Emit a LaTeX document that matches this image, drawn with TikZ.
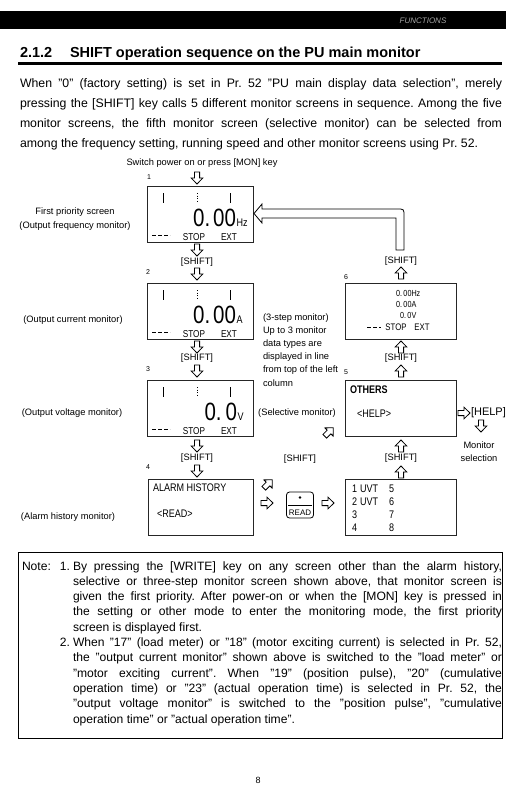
\documentclass[tikz,border=0pt]{standalone}
\usepackage{fontspec}
\setmainfont{Liberation Sans}
\newfontfamily\lcd[FakeStretch=0.82]{Liberation Sans}
\newcommand\fs[1]{\fontsize{#1}{#1}\selectfont\frenchspacing}
\tikzset{
  harrow/.pic={\draw[line width=0.8pt, line join=miter, fill=white]
     (-2.6,-6) -- (2.6,-6) -- (2.6,0) -- (5.8,0) -- (0,6) -- (-5.8,0) -- (-2.6,0) -- cycle;},
}
\newcommand\lcdticks[2]{%
  \draw[line width=0.6pt] (#1+16,#2+7) -- (#1+16,#2+17);
  \draw[line width=0.6pt, dotted] (#1+50,#2+7) -- (#1+50,#2+17);
  \draw[line width=0.6pt] (#1+83,#2+7) -- (#1+83,#2+17);}
\begin{document}
\begin{tikzpicture}[x=1pt,y=-1pt,
  every node/.style={inner sep=0pt, outer sep=0pt},
  lbl/.style={font=\fs{9.3}},
  body/.style={font=\fs{12.3}, anchor=base west},
  nbody/.style={font=\fs{12.1}, anchor=base west},
  lcdbox/.style={draw=black!85, line width=0.9pt, anchor=north west},
  lcdtxt/.style={font=\lcd\fs{10}, anchor=base},
  smalllcd/.style={font=\lcd\fs{8.8}, anchor=base west},
  scr/.style={font=\lcd\fs{11}, anchor=base west},
  big/.style={font=\lcd\fs{25}, anchor=base east},
  unit/.style={font=\lcd\fs{11}, anchor=base west},
  num/.style={font=\fs{7}},
  dash3/.style={line width=0.6pt, dash pattern=on 4pt off 2pt},
]
\useasboundingbox (0,0) rectangle (518,792);
% header
\fill (0,11.5) rectangle (506,29);
\node[font=\itshape\fs{8}, text=black!35] (hdr) at (423,20.5) {FUNCTIONS};
% title
\node[font=\bfseries\fs{14.5}, anchor=base west] (secnum) at (20,57) {2.1.2};
\node[font=\bfseries\fs{14.5}, anchor=base west] (title) at (70,57) {SHIFT operation sequence on the PU main monitor};
\draw[line width=2.4pt] (18,63.5) -- (502,63.5);
% intro
\node[body] (p1) at (20,87) {\makebox[482pt][s]{When "0" (factory setting) is set in Pr. 52 "PU main display data selection", merely}};
\node[body] (p2) at (20,107) {\makebox[482pt][s]{pressing the [SHIFT] key calls 5 different monitor screens in sequence. Among the five}};
\node[body] (p3) at (20,127) {\makebox[482pt][s]{monitor screens, the fifth monitor screen (selective monitor) can be selected from}};
\node[body] (p4) at (20,147) {among the frequency setting, running speed and other monitor screens using Pr. 52.};

% ---------- diagram ----------
\node[lbl] (sw) at (202,163) {Switch power on or press [MON] key};
\node[num] (n1) at (149,177) {1};
\node[num] (n2) at (148,272) {2};
\node[num] (n3) at (148,369) {3};
\node[num] (n4) at (148,467) {4};
\node[num] (n6) at (346,277) {6};
\node[num] (n5) at (346,372) {5};

% screens
\node[lcdbox, minimum width=106pt, minimum height=56pt] (s1) at (147,186) {};
\node[lcdbox, minimum width=106pt, minimum height=56pt] (s2) at (147,283) {};
\node[lcdbox, minimum width=106pt, minimum height=56pt] (s3) at (147,380) {};
\node[lcdbox, minimum width=105pt, minimum height=56pt] (s4) at (148,479) {};
\node[lcdbox, minimum width=111pt, minimum height=56pt] (s6) at (345,283) {};
\node[lcdbox, minimum width=111pt, minimum height=56pt] (s5) at (345,380) {};
\node[lcdbox, minimum width=111pt, minimum height=56pt] (s7) at (345,479) {};

% screen 1
\lcdticks{147}{186}
\node[big] (v1) at (236,226) {0.\hspace{3pt}00};
\node[unit] (u1) at (236.5,226) {Hz};
\draw[dash3] (152,235) -- (170,235);
\node[lcdtxt] (st1) at (194,240) {STOP};
\node[lcdtxt] (ex1) at (229,240) {EXT};
% screen 2
\lcdticks{147}{283}
\node[big] (v2) at (236,323) {0.\hspace{3pt}00};
\node[unit] (u2) at (236.5,323) {A};
\draw[dash3] (152,332) -- (170,332);
\node[lcdtxt] (st2) at (194,337) {STOP};
\node[lcdtxt] (ex2) at (229,337) {EXT};
% screen 3
\lcdticks{147}{380}
\node[big] (v3) at (237,420) {0.\hspace{4pt}0};
\node[unit] (u3) at (237.5,420) {V};
\draw[dash3] (152,429) -- (170,429);
\node[lcdtxt] (st3) at (194,434) {STOP};
\node[lcdtxt] (ex3) at (229,434) {EXT};
% screen 4
\node[scr] (al) at (153,491) {ALARM HISTORY};
\node[scr] (rd) at (157,517) {<READ>};
% screen 6
\node[smalllcd] (m1) at (396,296) {0.\,00Hz};
\node[smalllcd] (m2) at (396,307) {0.\,00A};
\node[smalllcd] (m3) at (400,318) {0.\,0V};
\draw[dash3] (367,327) -- (381,327);
\node[font=\lcd\fs{9.5}, anchor=base] (st6) at (396,330.5) {STOP};
\node[font=\lcd\fs{9.5}, anchor=base] (ex6) at (422,330.5) {EXT};
% screen 5
\node[scr, font=\lcd\bfseries\fs{11}] (ot) at (350,393) {OTHERS};
\node[scr] (hp) at (357,417) {<HELP>};
% alarm list
\foreach \r/\a/\u/\b in {1/1/UVT/5, 2/2/UVT/6, 3/3//7, 4/4//8}{
  \node[scr] (la\r) at (352,479+13*\r) {\a};
  \node[scr] (lu\r) at (360,479+13*\r) {\u};
  \node[scr] (lb\r) at (389,479+13*\r) {\b};
}

% left labels
\node[lbl] (l1a) at (75,212) {First priority screen};
\node[lbl] (l1b) at (75,226) {(Output frequency monitor)};
\node[lbl] (l2) at (73,320) {(Output current monitor)};
\node[lbl] (l3) at (72,413) {(Output voltage monitor)};
\node[lbl] (l4) at (68,517) {(Alarm history monitor)};

% shift labels
\node[lbl] (k1) at (197,262) {[SHIFT]};
\node[lbl] (k2) at (197,358.5) {[SHIFT]};
\node[lbl] (k3) at (197,458.5) {[SHIFT]};
\node[lbl] (k4) at (401,261) {[SHIFT]};
\node[lbl] (k5) at (401,358.5) {[SHIFT]};
\node[lbl] (k6) at (401,458.5) {[SHIFT]};
\node[lbl] (k7) at (300,459) {[SHIFT]};

% 3-step text
\foreach \t [count=\i from 0] in {(3-step monitor),Up to 3 monitor,data types are,displayed in line,from top of the left,column}
  \node[lbl, anchor=west] (ts\i) at (263,318+13*\i) {\t};
\node[lbl] (sel) at (297,413) {(Selective monitor)};
\node[font=\fs{11}, anchor=west] (help) at (471,413) {[HELP]};
\node[lbl] (mon) at (479,445) {Monitor};
\node[lbl] (msel) at (479,458) {selection};

% hollow arrows, left column
\foreach \yy in {178,250,274,347,371,446,471}
  \pic at (197,\yy) {harrow};
% right column (up)
\foreach \yy in {273,347,371,446,472}
  \pic[rotate=180] at (401,\yy) {harrow};
% others
\pic[rotate=90] at (464,413) {harrow};
\pic at (481,426) {harrow};
\pic[rotate=90] at (267,503) {harrow};
\pic[rotate=90] at (328,503) {harrow};
\pic[rotate=135] at (268,484) {harrow};
\pic[rotate=135] at (329,432) {harrow};

% return arrow from screen 6 to screen 1
\draw[line width=0.8pt, line join=miter, fill=white]
  (396,250) -- (396,218) -- (262,218) -- (262,223) -- (254,213.5) -- (262,204) -- (262,209)
  -- (397,209) .. controls (404,209) .. (404,216) -- (404,250) -- cycle;

% READ key
\node[draw, line width=0.8pt, rounded corners=3pt, minimum width=27pt, minimum height=26pt] (rk) at (300,505) {};
\fill (300,497.5) circle (1.4pt);
\draw[line width=0.6pt] (288,505) -- (312,505);
\node[font=\fs{8}, anchor=base] (rkt) at (300,515) {READ};

% note box
\node[draw, line width=1pt, minimum width=484pt, minimum height=186pt, anchor=north west] (note) at (18,552) {};
\node[nbody] (nh) at (22,570) {Note:};
\node[nbody, anchor=base east] (ni1) at (70,570) {1.};
\node[nbody, anchor=base east] (ni2) at (70,646.5) {2.};
\node[nbody] (q1) at (73,570) {\makebox[429pt][s]{By pressing the [WRITE] key on any screen other than the alarm history,}};
\node[nbody] (q2) at (73,585.3) {\makebox[429pt][s]{selective or three-step monitor screen shown above, that monitor screen is}};
\node[nbody] (q3) at (73,600.6) {\makebox[429pt][s]{given the first priority. After power-on or when the [MON] key is pressed in}};
\node[nbody] (q4) at (73,615.9) {\makebox[429pt][s]{the setting or other mode to enter the monitoring mode, the first priority}};
\node[nbody] (q5) at (73,631.2) {screen is displayed first.};
\node[nbody] (q6) at (73,646.5) {\makebox[429pt][s]{When "17" (load meter) or "18" (motor exciting current) is selected in Pr. 52,}};
\node[nbody] (q7) at (73,661.8) {\makebox[429pt][s]{the "output current monitor" shown above is switched to the "load meter" or}};
\node[nbody] (q8) at (73,677.1) {\makebox[429pt][s]{"motor exciting current". When "19" (position pulse), "20" (cumulative}};
\node[nbody] (q9) at (73,692.4) {\makebox[429pt][s]{operation time) or "23" (actual operation time) is selected in Pr. 52, the}};
\node[nbody] (q10) at (73,707.7) {\makebox[429pt][s]{"output voltage monitor" is switched to the "position pulse", "cumulative}};
\node[nbody] (q11) at (73,723) {operation time" or "actual operation time".};

\node[font=\fs{9}] (pg) at (258,780) {8};
\end{tikzpicture}
\end{document}
